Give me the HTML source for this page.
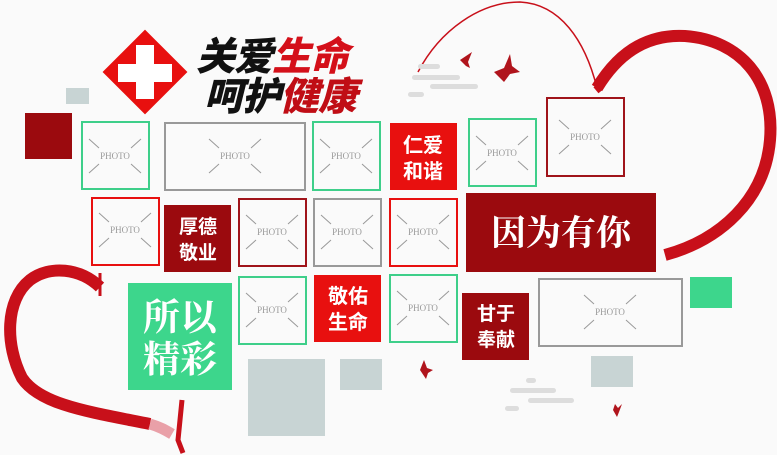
<!DOCTYPE html>
<html><head><meta charset="utf-8"><style>
html,body{margin:0;padding:0;background:#fafafa;}
svg{display:block}
</style></head><body>
<svg width="777" height="455" viewBox="0 0 777 455" xmlns="http://www.w3.org/2000/svg" font-family="'Liberation Sans','Noto Sans CJK SC',sans-serif">
<defs>
<g id="ph">
<line x1="-26" y1="-17" x2="-16" y2="-8" stroke="#999" stroke-width="1"/>
<line x1="26" y1="-17" x2="16" y2="-8" stroke="#999" stroke-width="1"/>
<line x1="-26" y1="17" x2="-16" y2="8" stroke="#999" stroke-width="1"/>
<line x1="26" y1="17" x2="16" y2="8" stroke="#999" stroke-width="1"/>
<text x="0" y="3" font-family="'Liberation Serif',serif" font-size="9" fill="#999" text-anchor="middle">PHOTO</text>
</g>
</defs>
<rect width="777" height="455" fill="#fafafa"/>

<!-- right heart -->
<path d="M418,72 C440,30 480,2 520,2 C560,4 585,40 597,88" fill="none" stroke="#c8101a" stroke-width="1.5"/>
<path d="M597,88 C620,50 650,34 685,36 C740,40 775,80 770,140 C765,200 720,240 665,255" fill="none" stroke="#c8101a" stroke-width="12"/>
<path d="M595,86 L600,92" stroke="#c8101a" stroke-width="4"/>

<!-- left heart -->
<path d="M100,273 L100,296" stroke="#c8101a" stroke-width="3"/>
<path d="M100,287 C80,268 50,265 30,280 C5,300 5,345 22,378 C40,405 90,412 150,424" fill="none" stroke="#c8101a" stroke-width="12"/>
<path d="M150,424 C160,427 165,430 172,434" fill="none" stroke="#e9a0a8" stroke-width="11"/>
<path d="M182,400 L178,440 L183,453" fill="none" stroke="#c8101a" stroke-width="5"/>

<!-- clouds -->
<g fill="#ddd">
<rect x="418" y="64" width="22" height="5" rx="2.5"/>
<rect x="412" y="75" width="48" height="5" rx="2.5"/>
<rect x="430" y="84" width="48" height="5" rx="2.5"/>
<rect x="408" y="92" width="16" height="5" rx="2.5"/>
<rect x="526" y="378" width="10" height="5" rx="2.5"/>
<rect x="510" y="388" width="46" height="5" rx="2.5"/>
<rect x="528" y="398" width="46" height="5" rx="2.5"/>
<rect x="505" y="406" width="14" height="5" rx="2.5"/>
</g>
<!-- birds -->
<g fill="#b0141c">
<path d="M460,60 l12,-8 l-4,10 l2,6 l-4,-2 z"/>
<path d="M494,72 l10,-4 l6,-14 l2,12 l8,6 l-10,2 l-6,8 z"/>
<path d="M420,370 l4,-10 l3,8 l6,2 l-5,3 l-2,6 z"/>
<path d="M613,410 l2,-6 l3,4 l4,-4 l-3,8 l-2,5 z"/>
</g>

<!-- logo -->
<g transform="translate(145,72) rotate(45)">
<rect x="-30" y="-30" width="60" height="60" fill="#e8100f"/>
</g>
<rect x="118" y="64" width="54" height="18" fill="#fff"/>
<rect x="136" y="45" width="18" height="54" fill="#fff"/>
<text x="196" y="70" font-size="39" font-weight="900" font-style="italic" fill="#111" letter-spacing="-1">关爱<tspan fill="#d4101a">生命</tspan></text>
<text x="204" y="110" font-size="39" font-weight="900" font-style="italic" fill="#111" letter-spacing="-1">呵护<tspan fill="#c00d15">健康</tspan></text>

<!-- decorative squares -->
<rect x="66" y="88" width="23" height="16" fill="#c8d4d4"/>
<rect x="25" y="113" width="47" height="46" fill="#9b0a0e"/>
<rect x="690" y="277" width="42" height="31" fill="#3dd68c"/>
<rect x="248" y="359" width="77" height="77" fill="#c8d4d4"/>
<rect x="340" y="359" width="42" height="31" fill="#c8d4d4"/>
<rect x="591" y="356" width="42" height="31" fill="#c8d4d4"/>

<!-- frames row 1 -->
<rect x="82" y="122" width="67" height="67" fill="none" stroke="#3ecf8a" stroke-width="2"/><use href="#ph" x="115" y="156"/>
<rect x="165" y="123" width="140" height="67" fill="none" stroke="#999" stroke-width="2"/><use href="#ph" x="235" y="156"/>
<rect x="313" y="122" width="67" height="68" fill="none" stroke="#3ecf8a" stroke-width="2"/><use href="#ph" x="346" y="156"/>
<rect x="390" y="123" width="67" height="67" fill="#e8100f"/>
<text x="423" y="152" font-size="20" font-weight="bold" fill="#fff" text-anchor="middle">仁爱</text>
<text x="423" y="178" font-size="20" font-weight="bold" fill="#fff" text-anchor="middle">和谐</text>
<rect x="469" y="119" width="67" height="67" fill="none" stroke="#3ecf8a" stroke-width="2"/><use href="#ph" x="502" y="153"/>
<rect x="547" y="98" width="77" height="78" fill="none" stroke="#a0141a" stroke-width="2"/><use href="#ph" x="585" y="137"/>

<!-- row 2 -->
<rect x="92" y="198" width="67" height="67" fill="none" stroke="#e8100f" stroke-width="2"/><use href="#ph" x="125" y="230"/>
<rect x="164" y="205" width="67" height="67" fill="#9b0a0e"/>
<text x="198" y="233" font-size="19" font-weight="bold" fill="#fff" text-anchor="middle">厚德</text>
<text x="198" y="259" font-size="19" font-weight="bold" fill="#fff" text-anchor="middle">敬业</text>
<rect x="239" y="199" width="67" height="67" fill="none" stroke="#a0141a" stroke-width="2"/><use href="#ph" x="272" y="232"/>
<rect x="314" y="199" width="67" height="67" fill="none" stroke="#999" stroke-width="2"/><use href="#ph" x="347" y="232"/>
<rect x="390" y="199" width="67" height="67" fill="none" stroke="#e8100f" stroke-width="2"/><use href="#ph" x="423" y="232"/>
<rect x="466" y="193" width="190" height="79" fill="#9b0a0e"/>
<text x="561" y="245" font-size="35" font-weight="bold" fill="#fff" text-anchor="middle" font-family="'Liberation Serif','Noto Serif CJK SC',serif">因为有你</text>

<!-- row 3 -->
<rect x="128" y="283" width="104" height="107" fill="#3dd68c"/>
<text x="180" y="330" font-size="37" font-weight="bold" fill="#fff" text-anchor="middle" font-family="'Liberation Serif','Noto Serif CJK SC',serif">所以</text>
<text x="180" y="372" font-size="37" font-weight="bold" fill="#fff" text-anchor="middle" font-family="'Liberation Serif','Noto Serif CJK SC',serif">精彩</text>
<rect x="239" y="277" width="67" height="67" fill="none" stroke="#3ecf8a" stroke-width="2"/><use href="#ph" x="272" y="310"/>
<rect x="314" y="275" width="67" height="67" fill="#e8100f"/>
<text x="348" y="303" font-size="20" font-weight="bold" fill="#fff" text-anchor="middle">敬佑</text>
<text x="348" y="329" font-size="20" font-weight="bold" fill="#fff" text-anchor="middle">生命</text>
<rect x="390" y="275" width="67" height="67" fill="none" stroke="#3ecf8a" stroke-width="2"/><use href="#ph" x="423" y="308"/>
<rect x="462" y="293" width="67" height="67" fill="#9b0a0e"/>
<text x="496" y="320" font-size="19" font-weight="bold" fill="#fff" text-anchor="middle">甘于</text>
<text x="496" y="346" font-size="19" font-weight="bold" fill="#fff" text-anchor="middle">奉献</text>
<rect x="539" y="279" width="143" height="67" fill="none" stroke="#999" stroke-width="2"/><use href="#ph" x="610" y="312"/>
</svg>
</body></html>
